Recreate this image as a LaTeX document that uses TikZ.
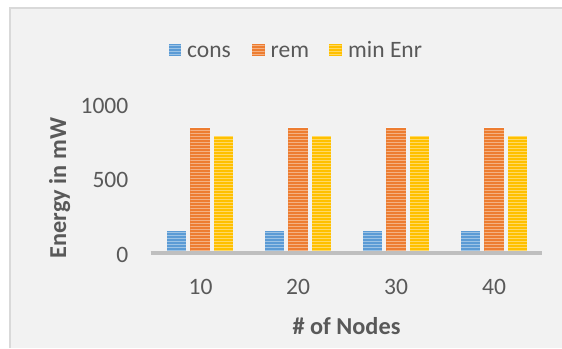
\documentclass[tikz,border=0pt]{standalone}
\usepackage{fontspec}
\setmainfont{Carlito}
\definecolor{cblue}{HTML}{5B9BD5}
\definecolor{corange}{HTML}{ED7D31}
\definecolor{cgold}{HTML}{FFC000}
\definecolor{bgray}{HTML}{F2F2F2}
\definecolor{framegray}{HTML}{D9D9D9}
\definecolor{axisgray}{HTML}{BFBFBF}
\definecolor{txtgray}{HTML}{595959}
\begin{document}
\begin{tikzpicture}[x=1pt,y=-1pt,
  lbl/.style={font=\fontsize{23.5}{25}\selectfont, text=txtgray, inner sep=0pt},
  ttl/.style={font=\fontsize{24.3}{26}\selectfont\bfseries, text=txtgray, inner sep=0pt},
  stripes/.style={path picture={
     \foreach \k in {1.5,4.5,...,240}
       \draw[white, opacity=0.4, line width=0.9pt]
         ([yshift=\k pt]path picture bounding box.south west) --
         ([yshift=\k pt]path picture bounding box.south east);
     }}]
\useasboundingbox (0,0) rectangle (562,348);
\fill[white] (0,0) rectangle (562,348);
\fill[bgray] (9,7) rectangle (562,348);
\draw[framegray, line width=2pt] (10,348) -- (10,8) -- (562,8);
% legend
\fill[cblue, stripes] (168.5,43.5) rectangle (181,56);
\node[lbl, anchor=base west] (lcons) at (187,57) {cons};
\fill[corange, stripes] (252,43.5) rectangle (264.5,56);
\node[lbl, anchor=base west] (lrem) at (270.5,57) {rem};
\fill[cgold, stripes] (329,43.5) rectangle (341.5,56);
\node[lbl, anchor=base west] (lmin) at (348,57) {min Enr};
% y tick labels
\node[lbl, anchor=base east] (y1000) at (128.5,113) {1000};
\node[lbl, anchor=base east] (y500) at (128.5,187.5) {500};
\node[lbl, anchor=base east] (y0) at (128.5,262) {0};
% bars
\foreach \c/\r/\m [count=\i from 0] in {150/845/792, 150/845/790, 150/845/790, 150/848/790}{
  \pgfmathsetmacro{\cx}{200+98*\i}
  \fill[cblue, stripes] (\cx-33.25,251.5) rectangle (\cx-13.75,{253-0.148*\c});
  \fill[corange, stripes] (\cx-9.75,251.5) rectangle (\cx+9.75,{253-0.148*\r});
  \fill[cgold, stripes] (\cx+13.75,251.5) rectangle (\cx+33.25,{253-0.148*\m});
}
% axis
\coordinate (axl) at (150.5,253);
\coordinate (axr) at (542,253);
\draw[axisgray, line width=3.5pt] (axl) -- (axr);
% x tick labels
\node[lbl, anchor=base] (x10) at (200.5,294.5) {10};
\node[lbl, anchor=base] (x20) at (298,294.5) {20};
\node[lbl, anchor=base] (x30) at (396,294.5) {30};
\node[lbl, anchor=base] (x40) at (494,294.5) {40};
% titles
\node[ttl, anchor=base] (xt) at (346.5,334) {\# of Nodes};
\node[ttl, anchor=base, rotate=90] (yt) at (66,188) {Energy in mW};
\end{tikzpicture}
\end{document}
